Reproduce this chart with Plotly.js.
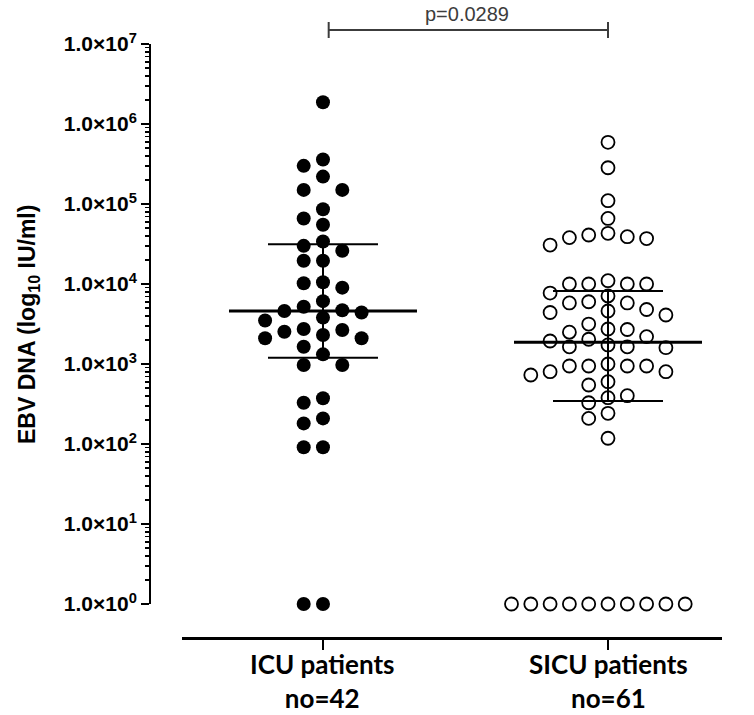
<!DOCTYPE html>
<html>
<head>
<meta charset="utf-8">
<script src="https://cdn.plot.ly/plotly-3.0.1.min.js"></script>
<style>html,body{margin:0;padding:0;background:#fff;}#chart{width:754px;height:715px;}</style>
</head>
<body>
<div id="chart"></div>
<script>
// ---- data ----
const groups = ["ICU patients", "SICU patients"];
const groupCounts = ["no=42", "no=61"];
const icuValues = [1.87e6, 3.6e5, 3.0e5, 2.2e5, 1.5e5, 1.5e5, 8.6e4, 6.6e4, 5.5e4, 3.4e4,
  3.0e4, 2.6e4, 1.95e4, 1.95e4, 1.05e4, 1.02e4, 9.0e3,
  6.1e3, 5.2e3, 4.7e3, 4.6e3, 4.4e3, 3.8e3, 3.5e3,
  2.74e3, 2.66e3, 2.53e3, 2.3e3, 2.1e3, 2.1e3, 1.64e3, 1.32e3, 972, 972,
  373, 328, 209, 181, 91, 91, 1, 1];
const sicuValues = [5.9e5, 2.84e5, 1.1e5, 6.6e4, 4.3e4, 4.1e4, 3.9e4, 3.8e4, 3.7e4, 3.07e4,
  1.1e4, 1.0e4, 1.0e4, 1.0e4, 1.0e4, 7.7e3, 7.1e3, 6.0e3, 5.8e3, 5.8e3, 4.8e3, 4.6e3, 4.4e3, 4.1e3,
  3.16e3, 2.74e3, 2.7e3, 2.5e3, 2.2e3, 2.04e3, 1.94e3, 1.73e3, 1.64e3, 1.64e3, 1.6e3,
  1000, 944, 944, 944, 944, 801, 801, 729, 601, 546,
  402, 379, 328, 242, 209, 118,
  1, 1, 1, 1, 1, 1, 1, 1, 1, 1];
const medians = [4.6e3, 1.87e3];
const q1s = [1.2e3, 345];
const q3s = [3.13e4, 8.2e3];
const pValueText = "p=0.0289";
const yTickExponents = [0, 1, 2, 3, 4, 5, 6, 7];

// ---- layout constants ----
const W = 754, H = 715;
const M = {l: 150, r: 32, t: 44, b: 77};
const plotW = W - M.l - M.r, plotH = H - M.t - M.b;
const xDomain = [32 / plotW, 1];
const yDomain = [34 / plotH, 1];
const xRange = [0.5053, 2.4];
const yRangeLog = [0, 7];
const pxPerX = plotW * (xDomain[1] - xDomain[0]) / (xRange[1] - xRange[0]);
const pxPerDecade = plotH * (yDomain[1] - yDomain[0]) / (yRangeLog[1] - yRangeLog[0]);
const SLOT_PX = 19.3, DIAM_PX = 14.5;

// grid beeswarm (GraphPad-like scatter column)
function swarm(values, center) {
  const order = values.map((v, i) => i).sort((a, b) => values[b] - values[a]);
  const placed = [];
  const xs = new Array(values.length);
  for (const i of order) {
    const y = Math.log10(values[i]) * pxPerDecade;
    for (let s = 0; s < 40; s++) {
      const k = s === 0 ? 0 : (s % 2 === 1 ? -Math.ceil(s / 2) : Math.ceil(s / 2));
      const clash = placed.some(p => p.k === k && Math.abs(p.y - y) < DIAM_PX);
      if (!clash) { placed.push({k, y}); xs[i] = center + k * SLOT_PX / pxPerX; break; }
    }
  }
  return xs;
}

const traces = [];
// median and IQR lines
const medHalf = 94 / pxPerX, iqrHalf = 55 / pxPerX;
[0, 1].forEach(g => {
  const c = g + 1;
  traces.push({x: [c - medHalf, c + medHalf], y: [medians[g], medians[g]], mode: 'lines',
    line: {color: '#000', width: 3}, hoverinfo: 'skip', showlegend: false, cliponaxis: false});
  traces.push({x: [c - iqrHalf, c + iqrHalf, null, c - iqrHalf, c + iqrHalf, null, c, c],
    y: [q3s[g], q3s[g], null, q1s[g], q1s[g], null, q3s[g], q1s[g]], mode: 'lines',
    line: {color: '#000', width: 2}, hoverinfo: 'skip', showlegend: false, cliponaxis: false});
});
traces.push({x: swarm(icuValues, 1), y: icuValues, mode: 'markers', type: 'scatter', cliponaxis: false,
  marker: {symbol: 'circle', size: 14, color: '#000'}, showlegend: false, name: groups[0]});
traces.push({x: swarm(sicuValues, 2), y: sicuValues, mode: 'markers', type: 'scatter', cliponaxis: false,
  marker: {symbol: 'circle-open', size: 13, color: '#000', line: {width: 1.8, color: '#000'}},
  showlegend: false, name: groups[1]});

const minorVals = [];
for (let e = 0; e < 7; e++) for (let k = 2; k <= 9; k++) minorVals.push(k * Math.pow(10, e));

const bracketY = 1 + (44 - 30) / plotH;
const capTop = 1 + (44 - 22) / plotH, capBot = 1 + (44 - 38) / plotH;
const gray = '#3c3c3c';

const xLabelAnnotations = groups.map((g, i) => ({
  text: '<b>' + g + '</b><br><b>' + groupCounts[i] + '</b>', xref: 'x', yref: 'paper', x: i + 1,
  y: (638 - 681) / plotH, xanchor: 'center', yanchor: 'middle', showarrow: false,
  font: {family: 'Lato, "Open Sans", sans-serif', size: 26, color: '#000'}
}));

const layout = {
  width: W, height: H, margin: M, paper_bgcolor: '#fff', plot_bgcolor: '#fff',
  showlegend: false,
  xaxis: {domain: xDomain, range: xRange, anchor: 'free', position: 0, showgrid: false, zeroline: false,
    showline: true, linecolor: '#000', linewidth: 2.5,
    ticks: 'outside', ticklen: 10, tickwidth: 2, tickcolor: '#000',
    tickmode: 'array', tickvals: [1, 2], showticklabels: false},
  yaxis: {type: 'log', domain: yDomain, range: yRangeLog, anchor: 'free', position: 0,
    showgrid: false, zeroline: false, showline: true, linecolor: '#000', linewidth: 2.2,
    ticks: 'outside', ticklen: 8, tickwidth: 2, tickcolor: '#000',
    tickmode: 'array', tickvals: yTickExponents.map(e => Math.pow(10, e)),
    ticktext: yTickExponents.map(e => '<b>1.0×10<sup>' + e + '</sup></b>'),
    tickfont: {family: 'Arial, "Liberation Sans", sans-serif', size: 21, color: '#000'},
    minor: {tickmode: 'array', tickvals: minorVals, ticks: 'outside', ticklen: 4, tickwidth: 1.5, tickcolor: '#000', showgrid: false}},
  shapes: [
    {type: 'line', xref: 'x', yref: 'paper', x0: 1.02, x1: 2, y0: bracketY, y1: bracketY, line: {color: gray, width: 2}},
    {type: 'line', xref: 'x', yref: 'paper', x0: 1.02, x1: 1.02, y0: capBot, y1: capTop, line: {color: gray, width: 2}},
    {type: 'line', xref: 'x', yref: 'paper', x0: 2, x1: 2, y0: capBot, y1: capTop, line: {color: gray, width: 2}}
  ],
  annotations: [
    {text: pValueText, xref: 'x', yref: 'paper', x: 1.504, y: 1 + (44 - 14) / plotH, xanchor: 'center', yanchor: 'middle',
      showarrow: false, font: {family: 'Arial, "Liberation Sans", sans-serif', size: 20, color: gray}},
    {text: '<b>EBV DNA (log<sub>10</sub> IU/ml)</b>', xref: 'paper', yref: 'paper', x: 0, xshift: -122,
      y: (638 - 325) / plotH, xanchor: 'center', yanchor: 'middle', textangle: -90, showarrow: false,
      font: {family: 'Arial, "Liberation Sans", sans-serif', size: 23, color: '#000'}}
  ].concat(xLabelAnnotations)
};
Plotly.newPlot('chart', traces, layout, {displayModeBar: false, staticPlot: true});
</script>
</body>
</html>
